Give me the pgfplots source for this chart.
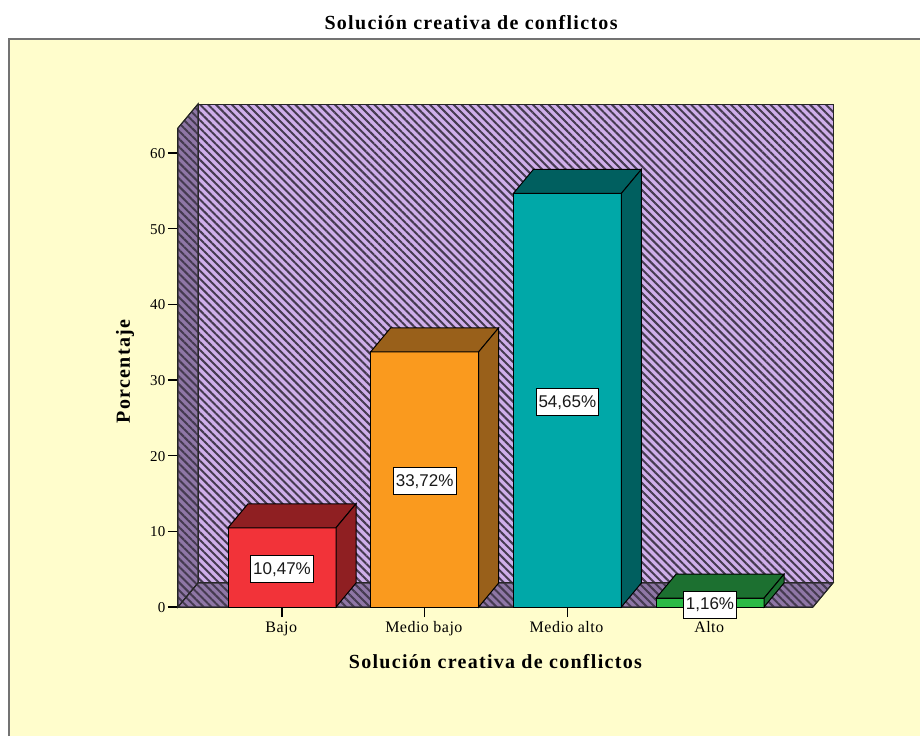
\documentclass[border=0pt]{standalone}
\usepackage{fontspec}
\setmainfont{Liberation Serif}
\newfontfamily\labelsans{Liberation Sans}
\newfontfamily\titlefont[LetterSpace=6.5]{Liberation Serif}
\newfontfamily\tickfont[LetterSpace=3]{Liberation Serif}
\usepackage{pgfplots}
\pgfplotsset{compat=1.18}
\usetikzlibrary{patterns.meta}
\definecolor{panel}{HTML}{FFFDCC}
\definecolor{wall}{HTML}{CFAFEA}
\definecolor{wallside}{HTML}{8F77A6}
\definecolor{stripe}{HTML}{453A50}
\definecolor{redf}{HTML}{F23339}
\definecolor{redd}{HTML}{8F1F22}
\definecolor{orf}{HTML}{FA9A1E}
\definecolor{ord}{HTML}{99601A}
\definecolor{tef}{HTML}{00A8A8}
\definecolor{ted}{HTML}{005F5F}
\definecolor{grf}{HTML}{2CBA46}
\definecolor{grd}{HTML}{1C7030}
\tikzset{
  wallpat/.style={draw=black!85,line width=1pt,preaction={fill=#1},
    pattern={Lines[angle=-45,distance=5.6pt,line width=2pt]},pattern color=stripe},
  face/.style={draw=black,line width=1pt,fill=#1}
}
\begin{document}
\begin{tikzpicture}[x=1pt,y=1pt]
\path[use as bounding box,fill=white] (0,0) rectangle (920,736);
\fill[panel] (9,0) rectangle (920,697);
\draw[black!55,line width=2.4pt] (9,0) -- (9,697) -- (920,697);
\begin{axis}[
  at={(282pt,129pt)},anchor=origin,
  scale only axis,width=635pt,height=479pt,
  xmin=-0.729,xmax=3.722,ymin=0,ymax=63.3,
  clip=false,
  axis x line*=bottom,axis y line*=left,
  axis line style={black,line width=1.3pt,-},
  xtick={0,1,2,3},xticklabels={Bajo,Medio bajo,Medio alto,Alto},
  ytick={0,10,20,30,40,50,60},
  tick style={black,line width=1.3pt},
  tick align=outside,
  major tick length=10pt,
  /pgf/number format/assume math mode=true,
  yticklabel style={font=\tickfont\fontsize{15}{17}\selectfont,xshift=1pt,yshift=-0.5pt},
  xticklabel style={font=\tickfont\fontsize{16}{18}\selectfont,yshift=-1pt,xshift=-0.8pt},
  title={\textbf{Solución creativa de conflictos}},
  title style={at={(rel axis cs:0.4625,1.2072)},anchor=center,font=\titlefont\fontsize{20}{22}\selectfont},
  xlabel={\textbf{Solución creativa de conflictos}},
  xlabel style={at={(rel axis cs:0.5008,-0.113)},anchor=center,font=\titlefont\fontsize{20}{22}\selectfont},
  ylabel={\textbf{Porcentaje}},
  ylabel style={at={(rel axis cs:-0.0835,0.493)},anchor=center,rotate=0,font=\titlefont\fontsize{20}{22}\selectfont},
  every axis plot/.append style={mark=none,forget plot},
]
% back wall, side wall, floor
\addplot[wallpat=wall] coordinates {(-0.5888,3.172)(3.8622,3.172)(3.8622,66.47)(-0.5888,66.47)} -- cycle;
\addplot[wallpat=wallside] coordinates {(-0.729,0)(-0.729,63.3)(-0.5888,66.47)(-0.5888,3.172)} -- cycle;
\addplot[wallpat=wallside] coordinates {(-0.729,0)(3.722,0)(3.8622,3.172)(-0.5888,3.172)} -- cycle;
% Bajo
\addplot[ybar,bar width=108pt,bar shift=0pt,face=redf] coordinates {(0,10.47)};
\addplot[face=redd] coordinates {(-0.3785,10.47)(0.3785,10.47)(0.5187,13.642)(-0.2383,13.642)} -- cycle;
\addplot[face=redd] coordinates {(0.3785,0)(0.3785,10.47)(0.5187,13.642)(0.5187,3.172)} -- cycle;
% Medio bajo
\addplot[ybar,bar width=108pt,bar shift=0pt,face=orf] coordinates {(1,33.72)};
\addplot[face=ord] coordinates {(0.6215,33.72)(1.3785,33.72)(1.5187,36.892)(0.7617,36.892)} -- cycle;
\addplot[face=ord] coordinates {(1.3785,0)(1.3785,33.72)(1.5187,36.892)(1.5187,3.172)} -- cycle;
% Medio alto
\addplot[ybar,bar width=108pt,bar shift=0pt,face=tef] coordinates {(2,54.65)};
\addplot[face=ted] coordinates {(1.6215,54.65)(2.3785,54.65)(2.5187,57.822)(1.7617,57.822)} -- cycle;
\addplot[face=ted] coordinates {(2.3785,0)(2.3785,54.65)(2.5187,57.822)(2.5187,3.172)} -- cycle;
% Alto
\addplot[ybar,bar width=108pt,bar shift=0pt,face=grf] coordinates {(3,1.16)};
\addplot[face=grd] coordinates {(2.6215,1.16)(3.3785,1.16)(3.5187,4.332)(2.7617,4.332)} -- cycle;
\addplot[face=grd] coordinates {(3.3785,0)(3.3785,1.16)(3.5187,4.332)(3.5187,3.172)} -- cycle;
% labels
\addplot[only marks,mark=none,
  point meta=explicit symbolic,
  nodes near coords,
  every node near coord/.style={anchor=center,yshift=-2pt,fill=white,draw=black,line width=0.9pt,
    inner xsep=2.5pt,inner ysep=0pt,minimum height=27pt,
    font=\labelsans\fontsize{17}{18}\selectfont,text=black!90}]
  coordinates {(0,5.235)[10,47\%] (1,16.86)[33,72\%] (2,27.325)[54,65\%] (3,0.58)[1,16\%]};
\end{axis}
\end{tikzpicture}
\end{document}
